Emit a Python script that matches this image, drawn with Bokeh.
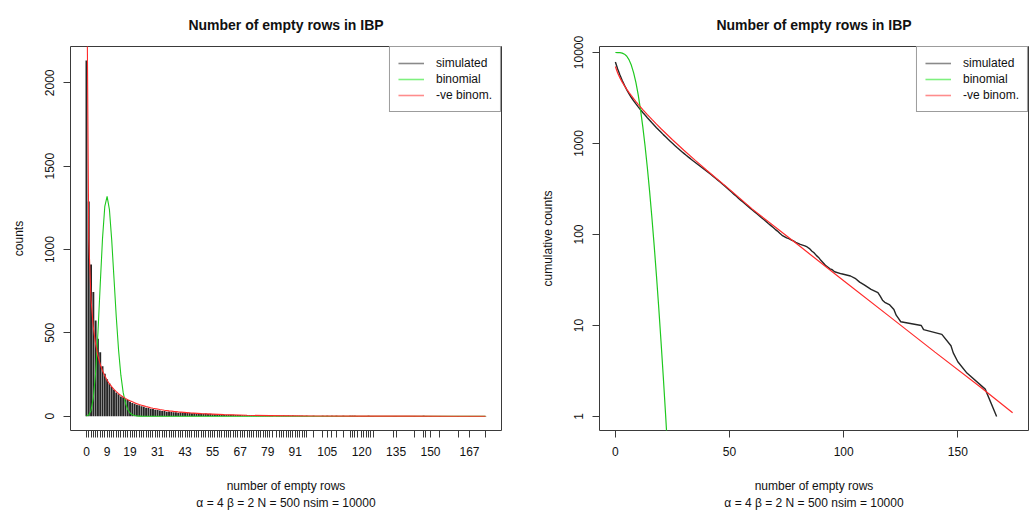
import numpy as np
from bokeh.plotting import figure
from bokeh.layouts import row
from bokeh.models import Range1d, FixedTicker, Legend, LegendItem, Title
from bokeh.embed import file_html
from bokeh.resources import INLINE

NSIM = 10000
FONT = "Liberation Sans"

# observed numbers of empty rows and how many of the simulations gave each
empty_rows = (list(range(0, 82)) + list(range(83, 97)) +
              [99, 103, 105, 107, 109, 112, 115, 116, 117, 118, 120, 121, 122,
               123, 124, 125, 134, 135, 143, 147, 148, 150, 154, 162, 167, 174])
sim_counts = [
    2134, 1288, 910, 745, 574, 464, 384, 300, 255, 222, 196, 175, 158,
    142, 131, 118, 113, 101, 97,
    87, 79, 75, 68, 65, 59, 56,
    51, 49, 44, 43, 38, 37, 34,
    31, 31, 27, 28, 25, 24, 24, 21,
    23, 20, 22, 19, 20, 18, 19, 16, 17, 16, 15, 16, 13, 14,
    12, 11, 11, 10, 10, 9, 9, 8, 8, 8, 7, 7, 7, 6, 6, 6, 5, 6, 5,
    3, 3, 2, 3, 2, 3, 2, 2,
    3, 2, 3,
    4, 3, 4, 3, 4, 3, 3,
    2, 2, 1, 2,
    2, 2, 2, 3, 2, 3, 2, 2, 2, 1, 1, 1, 1,
    2, 1, 1, 1, 1, 1, 2, 1, 1, 1, 1, 1, 1,
]
x_tick_labels = [0, 9, 19, 31, 43, 55, 67, 79, 91, 105, 120, 135, 150, 167]

# binomial expectation (counts per value, and counts above each value)
binom_k = list(range(0, 26)) + [174]
binom_counts = [0.76, 7.3, 34.7, 110.3, 262.6, 499.1, 788.9, 1066.7, 1259.5,
                1319.2, 1241.1, 1059.3, 827.1, 594.9, 396.5, 246.1, 142.9,
                78.0, 40.1, 19.5, 8.98, 3.93, 1.64, 0.65, 0.25, 0.09, 0.0]
binom_tail_k = list(range(0, 26))
binom_tail = [9999.2, 9992, 9957, 9847, 9584, 9085, 8296, 7230, 5970, 4661,
              3420, 2361, 1534, 939, 542, 296, 153, 75, 35, 15.6, 6.6, 2.68,
              1.04, 0.385, 0.136, 0.045]

# negative binomial expectation
nb_k = list(range(0, 31)) + [32, 34, 36, 38, 40, 45, 50, 60, 70, 80, 100,
                             120, 140, 160, 174]
nb_counts = [2980, 1061, 699, 531, 431, 362, 312, 273, 242, 216,
             195, 177, 161, 147, 135, 125, 115, 107, 99, 92,
             86, 80, 75, 70, 66, 62, 58, 54.5, 51.2, 48.2, 45.4,
             40.4, 36.0, 32.1, 28.8, 25.8, 19.8, 15.2, 9.3, 5.3, 3.4, 1.3,
             0.53, 0.21, 0.09, 0.05]
nb_tail_k = list(range(0, 11)) + [12, 14, 16, 18, 20, 25, 30, 35, 40, 50, 60,
                                  80, 100, 120, 140, 160, 174]
nb_tail = [7020, 5959, 5260, 4729, 4298, 3936, 3624, 3351, 3109, 2893, 2698,
           2360, 2078, 1838, 1632, 1454, 1101, 844, 653, 508, 313, 190, 77,
           31, 12.6, 5.1, 2.1, 1.1]

legend_labels = ["simulated", "binomial", "-ve binom."]
title_text = "Number of empty rows in IBP"
xlab = "number of empty rows"
sublab = "\u03b1 = 4 \u03b2 = 2 N = 500 nsim = 10000"

SIM_COL = "#262626"
BIN_COL = "#1ec81e"
NB_COL = "#ff2a2a"
LEG_COLS = ["#8a8a8a", "#7ff07f", "#ff8c8c"]
TXT = "#111111"
NAN = float("nan")
FRAME_H = 384


def style(p, ylabel):
    p.title.text = title_text
    p.title.align = "center"
    p.title.text_font = FONT
    p.title.text_font_size = "14px"
    p.title.text_font_style = "bold"
    p.title.text_color = TXT
    p.title.vertical_align = "top"
    p.title.standoff = 24
    p.xgrid.grid_line_color = None
    p.ygrid.grid_line_color = None
    p.outline_line_color = "#3a3a3a"
    p.outline_line_width = 1
    p.background_fill_color = "white"
    p.border_fill_color = "white"
    for ax in (p.xaxis[0], p.yaxis[0]):
        ax.axis_line_color = None
        ax.major_tick_in = 0
        ax.major_tick_out = 7
        ax.major_tick_line_color = "#3a3a3a"
        ax.minor_tick_line_color = None
        ax.major_label_text_font = FONT
        ax.major_label_text_font_size = "12px"
        ax.major_label_text_color = TXT
        ax.axis_label_text_font = FONT
        ax.axis_label_text_font_size = "12px"
        ax.axis_label_text_font_style = "normal"
        ax.axis_label_text_color = TXT
    p.xaxis.axis_label = xlab
    p.xaxis.major_label_standoff = 9
    p.xaxis.axis_label_standoff = 20
    p.yaxis.axis_label = ylabel
    p.yaxis.major_label_orientation = "vertical"
    p.yaxis.major_label_standoff = 9
    p.yaxis.axis_label_standoff = 17
    sub = Title(text=sublab, align="center", text_font=FONT,
                text_font_size="12px", text_font_style="normal",
                text_color=TXT, vertical_align="top", standoff=0)
    p.add_layout(sub, "below")

    # legend swatches: line renderers holding a single empty (NaN) point
    items = []
    for lab, col in zip(legend_labels, LEG_COLS):
        r = p.line([NAN], [NAN], line_color=col, line_width=1.6)
        items.append(LegendItem(label=lab, renderers=[r]))
    leg = Legend(items=items, location="top_right", margin=0, padding=8,
                 spacing=0, glyph_width=26, glyph_height=16, label_height=16,
                 label_standoff=12, label_text_font=FONT,
                 label_text_font_size="12px", label_text_color=TXT,
                 border_line_color="#3a3a3a", border_line_width=1,
                 background_fill_color="white", background_fill_alpha=1.0)
    p.add_layout(leg)


# ---- left: counts per value ----
p1 = figure(frame_width=431, frame_height=FRAME_H,
            x_range=Range1d(-6.96, 180.96), y_range=Range1d(-85.8, 2218),
            min_border_left=70, min_border_right=13, min_border_top=46,
            min_border_bottom=80, output_backend="svg", toolbar_location=None)
style(p1, "counts")
p1.segment(x0=empty_rows, y0=[0] * len(empty_rows), x1=empty_rows,
           y1=sim_counts, line_color=SIM_COL, line_width=1.9)
p1.line(binom_k, binom_counts, line_color=BIN_COL, line_width=1.1)
p1.line(nb_k, nb_counts, line_color=NB_COL, line_width=1.1)
p1.xaxis.ticker = FixedTicker(ticks=empty_rows)
p1.xaxis.major_label_overrides = {k: ("" if k not in x_tick_labels else str(k))
                                  for k in empty_rows}
p1.yaxis.ticker = FixedTicker(ticks=[0, 500, 1000, 1500, 2000])

# ---- right: counts above each value, log scale ----
above = NSIM - np.cumsum(sim_counts)
keep = above > 0
sim_x = np.array(empty_rows)[keep]
sim_above = above[keep]

p2 = figure(frame_width=429, frame_height=FRAME_H, y_axis_type="log",
            x_range=Range1d(-6.96, 180.96), y_range=Range1d(0.702, 11640),
            min_border_left=85, min_border_right=1, min_border_top=46,
            min_border_bottom=80, output_backend="svg", toolbar_location=None)
style(p2, "cumulative counts")
p2.line(sim_x, sim_above, line_color=SIM_COL, line_width=1.4)
p2.line(binom_tail_k, binom_tail, line_color=BIN_COL, line_width=1.2)
p2.line(nb_tail_k, nb_tail, line_color=NB_COL, line_width=1.2)
p2.xaxis.ticker = FixedTicker(ticks=[0, 50, 100, 150])
p2.yaxis.ticker = FixedTicker(ticks=[1, 10, 100, 1000, 10000])
p2.yaxis.major_label_overrides = {1: "1", 10: "10", 100: "100",
                                  1000: "1000", 10000: "10000"}

layout = row(p1, p2)
open("out.html", "w").write(file_html(layout, INLINE))
